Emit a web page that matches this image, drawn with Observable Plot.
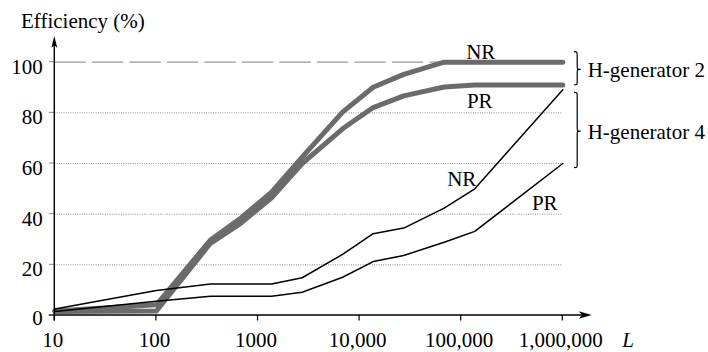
<!DOCTYPE html>
<html>
<head>
<meta charset="utf-8">
<script src="https://cdn.jsdelivr.net/npm/d3@7"></script>
<script src="https://cdn.jsdelivr.net/npm/@observablehq/plot@0.6"></script>
<style>
html, body { margin: 0; padding: 0; background: #fff; }
svg { display: block; }
</style>
</head>
<body>
<div id="chart"></div>
<script>
// ---- data ----
const L = [10, 100, 340, 680, 1360, 2720, 6800, 13600, 27200, 68000, 136000, 1000000];
const h2NR = [1.8, 4.2, 29.8, 38.5, 48.7, 62.5, 80.3, 90.1, 95.2, 100, 100, 100];
const h2PR = [1.6, 1.8, 28.5, 36.5, 46.5, 60.0, 73.7, 82.1, 86.7, 90.2, 91.0, 91.0];
const h4NR = [2.6, 9.9, 12.4, 12.4, 12.4, 14.9, 24.1, 32.3, 34.5, 42.4, 50.0, 89.1];
const h4PR = [1.6, 5.6, 7.6, 7.6, 7.6, 9.2, 15.1, 21.3, 23.7, 28.9, 33.2, 60.0];
const xTicks = [10, 100, 1000, 10000, 100000, 1000000];
const xTickLabels = ["10", "100", "1000", "10,000", "100,000", "1,000,000"];
const yTicks = [0, 20, 40, 60, 80, 100];
const yGrid = [20, 40, 60, 80];
const yFull = [100];
const groups = ["H-generator 2", "H-generator 4"];
const yTitle = "Efficiency (%)";
const xTitle = "L";

// ---- table ----
const series = [
  {group: groups[0], name: "NR", values: h2NR, thick: true},
  {group: groups[0], name: "PR", values: h2PR, thick: true},
  {group: groups[1], name: "NR", values: h4NR, thick: false},
  {group: groups[1], name: "PR", values: h4PR, thick: false}
];
const rows = series.flatMap(s => L.map((l, i) => ({L: l, eff: s.values[i], key: s.group + " " + s.name, thick: s.thick})));
const anchorIndex = L.indexOf(136000);

const FONT = "'Liberation Serif', 'Times New Roman', serif";
const W = 708, H = 352;
const mL = 54.3, mR = 145.7, mT = 61.7, mB = 37;

// label offsets (pixels) relative to each series' point at L = 136,000
const labelOffsets = [
  {dx: 6, dy: -3.5},
  {dx: 5, dy: 23.5},
  {dx: -13, dy: -3.3},
  {dx: 70, dy: -21}
];

function decor(index, scales) {
  const fx = d3.scaleLog().domain([d3.min(L), d3.max(L)]).range([mL, W - mR]);
  const fy = d3.scaleLinear().domain([0, 100]).range([H - mB, mT]);
  const x = (scales && typeof scales.x === "function") ? scales.x : fx;
  const y = (scales && typeof scales.y === "function") ? scales.y : fy;
  const g = d3.create("svg:g").attr("font-family", FONT).attr("font-size", 21)
    .attr("fill", "#000").attr("text-anchor", "start");
  const x0 = x(d3.min(L)), x1 = x(d3.max(L)), y0 = y(0), yT = y(d3.max(yTicks));

  // y ticks (gray) and labels
  for (const t of yTicks) {
    g.append("line").attr("x1", x0 - 5.5).attr("x2", x0).attr("y1", y(t)).attr("y2", y(t))
      .attr("stroke", t === 0 ? "#000" : "#8a8a8a").attr("stroke-width", t === 0 ? 1.3 : 1);
    g.append("text").attr("x", x0 - 11.5).attr("y", y(t) + (t === 0 ? 9.5 : 12))
      .attr("text-anchor", "end").text(String(t));
  }
  // x ticks and labels
  xTicks.forEach((t, i) => {
    g.append("line").attr("x1", x(t)).attr("x2", x(t)).attr("y1", y0).attr("y2", y0 + 5.5)
      .attr("stroke", "#000").attr("stroke-width", 1.2);
    g.append("text").attr("x", x(t) - 1.5).attr("y", y0 + 32).attr("text-anchor", "middle").text(xTickLabels[i]);
  });
  // axis lines
  const xTip = x1 + 29.4, yTip = yT - 25.7;
  g.append("line").attr("x1", x0).attr("x2", xTip - 6).attr("y1", y0).attr("y2", y0)
    .attr("stroke", "#000").attr("stroke-width", 1.4);
  g.append("line").attr("x1", x0).attr("x2", x0).attr("y1", y0 + 5.5).attr("y2", yTip + 6)
    .attr("stroke", "#000").attr("stroke-width", 1.4);
  // arrowheads
  g.append("path").attr("d", `M${xTip},${y0} L${xTip - 13},${y0 - 3.8} L${xTip - 9.5},${y0} L${xTip - 13},${y0 + 3.8} Z`).attr("fill", "#000");
  g.append("path").attr("d", `M${x0},${yTip} L${x0 - 3},${yTip + 12} L${x0},${yTip + 9} L${x0 + 3},${yTip + 12} Z`).attr("fill", "#000");
  // titles
  g.append("text").attr("x", x0 - 33.3).attr("y", yT - 33.7).attr("text-anchor", "start").text(yTitle);
  g.append("text").attr("x", x1 + 60).attr("y", y0 + 32).attr("text-anchor", "start").attr("font-style", "italic").text(xTitle);

  // braces
  const last = L.length - 1;
  const spans = [
    {label: groups[0], top: y(h2NR[last]) - 10, bottom: y(h2PR[last]) + 0.5},
    {label: groups[1], top: y(h4NR[last]) + 3, bottom: y(h4PR[last]) + 4.7}
  ];
  const bx = x1 + 11.7;
  for (const s of spans) {
    const m = (s.top + s.bottom) / 2 + 1;
    const v = bx + 3.2, c = bx + 6.8;
    const d = `M${bx},${s.top} C${v},${s.top} ${v},${s.top} ${v},${s.top + 4}` +
      ` L${v},${m - 3.5} C${v},${m} ${v},${m} ${c},${m}` +
      ` C${v},${m} ${v},${m} ${v},${m + 3.5}` +
      ` L${v},${s.bottom - 4} C${v},${s.bottom} ${v},${s.bottom} ${bx},${s.bottom}`;
    g.append("path").attr("d", d).attr("fill", "none").attr("stroke", "#000").attr("stroke-width", 1.2);
    g.append("text").attr("x", x1 + 25.4).attr("y", m + 8).attr("text-anchor", "start").text(s.label);
  }
  return g.node();
}

const labelMarks = series.map((s, i) => Plot.text([{L: L[anchorIndex], eff: s.values[anchorIndex], t: s.name}], {
  x: "L", y: "eff", text: "t", dx: labelOffsets[i].dx, dy: labelOffsets[i].dy,
  textAnchor: "middle", lineAnchor: "bottom", fontSize: 21, fill: "#000"
}));

const chart = Plot.plot({
  width: W, height: H,
  marginLeft: mL, marginRight: mR, marginTop: mT, marginBottom: mB,
  x: {type: "log", domain: [d3.min(L), d3.max(L)], axis: null},
  y: {domain: [0, 100], axis: null},
  style: {fontFamily: FONT, fontSize: "21px", background: "#fff", overflow: "visible", color: "#000"},
  marks: [
    Plot.ruleY(yGrid, {stroke: "#8f8f8f", strokeWidth: 1, strokeDasharray: "1,1.3"}),
    Plot.ruleY(yFull, {stroke: "#9a9a9a", strokeWidth: 1.3, strokeDasharray: "31.5,6"}),
    Plot.line(rows.filter(d => d.thick), {x: "L", y: "eff", z: "key", stroke: "#6b6b6b", strokeWidth: 5, strokeLinejoin: "round"}),
    Plot.line(rows.filter(d => !d.thick), {x: "L", y: "eff", z: "key", stroke: "#000", strokeWidth: 1.5, strokeLinejoin: "round"}),
    decor,
    ...labelMarks
  ]
});
document.getElementById("chart").appendChild(chart);
</script>
</body>
</html>
